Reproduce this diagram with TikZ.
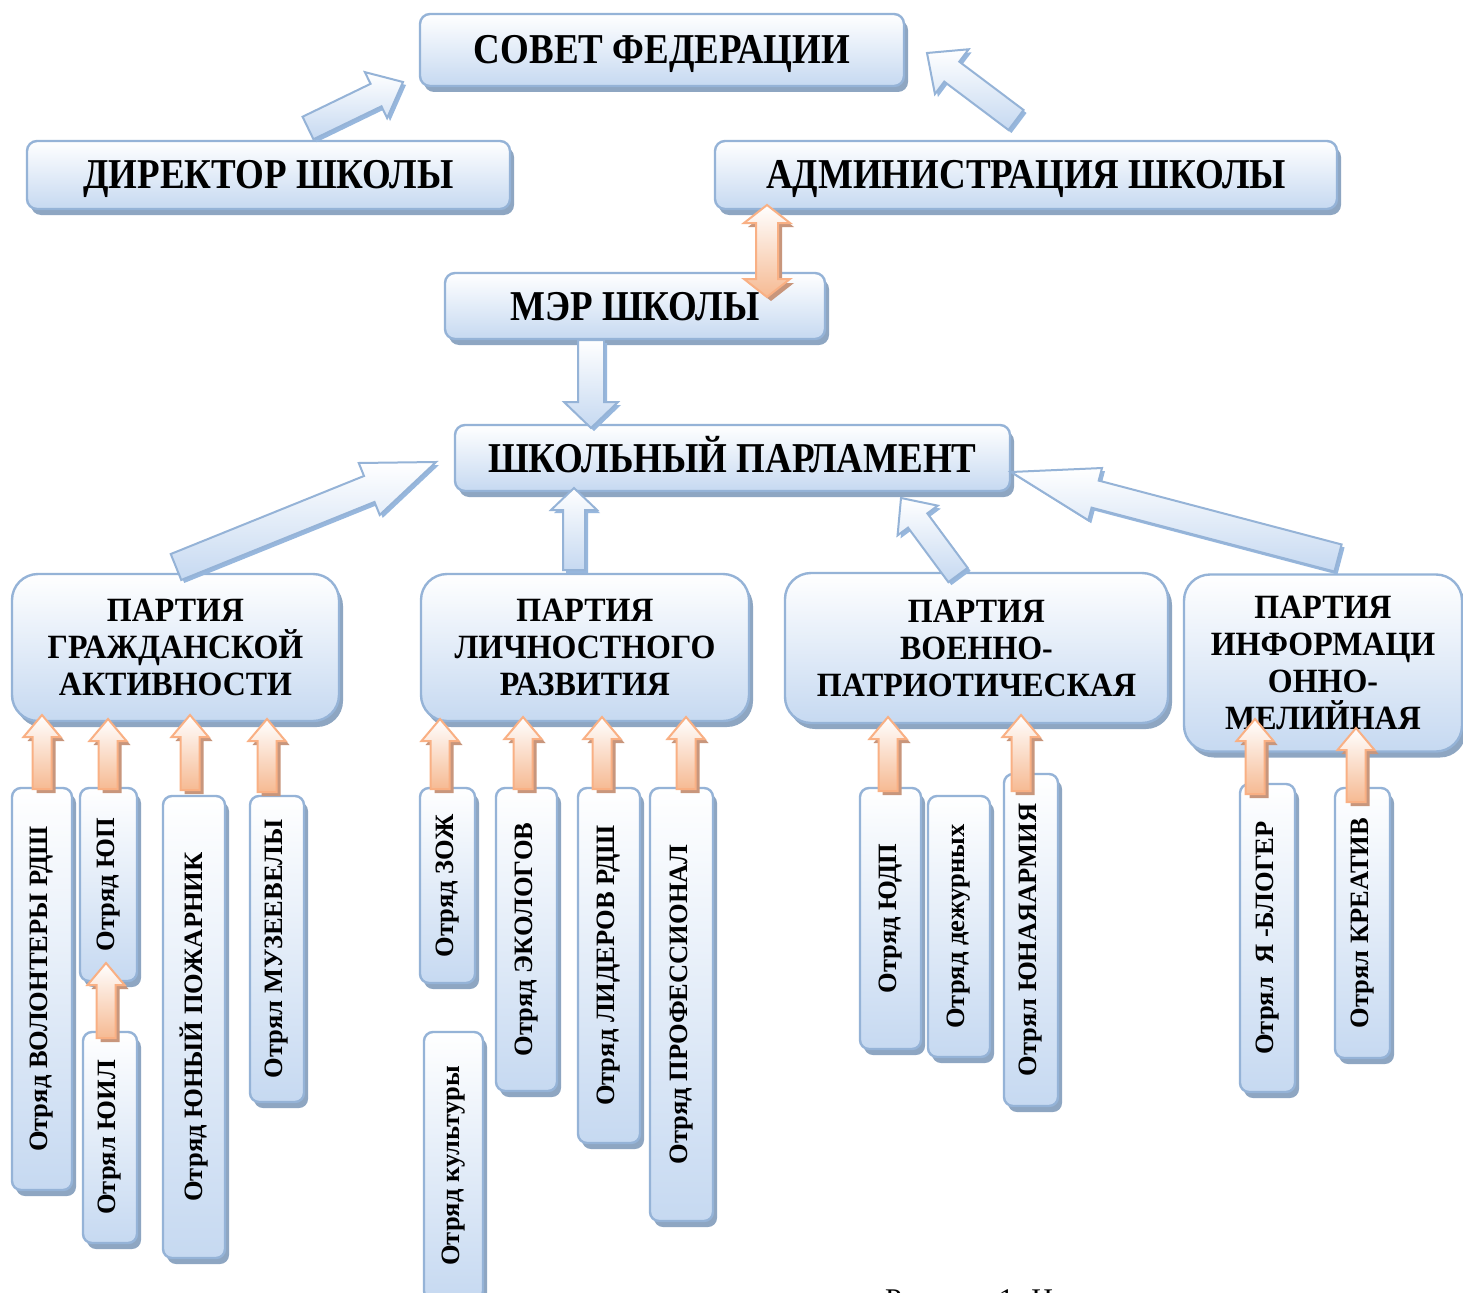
\documentclass[tikz,border=0pt]{standalone}
\usepackage{fontspec}
\setmainfont{Liberation Serif}
\newfontfamily\hfont{Liberation Serif}[FakeStretch=0.87]
\newfontfamily\pfont{Liberation Serif}[FakeStretch=0.94]
\newfontfamily\vfont{Liberation Serif}
\usetikzlibrary{shadows,calc}
\definecolor{bord}{HTML}{95B3D7}
\definecolor{boxb}{HTML}{C6D9F1}
\definecolor{boxsh}{HTML}{8EA6C2}
\definecolor{arrsh}{HTML}{97B7DD}
\definecolor{obord}{HTML}{F9B084}
\definecolor{ofill}{HTML}{F6BA93}
\definecolor{osh}{HTML}{C8967C}
\newcommand\blockarr[6]{%
  \coordinate (ab) at ($(#3)!#6!(#2)$);
  \draw[#1] ($(#2)!#4!90:(#3)$) -- ($(ab)!#4!90:(#3)$) -- ($(ab)!#5!90:(#3)$) -- (#3)
    -- ($(ab)!#5!-90:(#3)$) -- ($(ab)!#4!-90:(#3)$) -- ($(#2)!#4!-90:(#3)$) -- cycle;}
\newcommand\oarrow[2]{\blockarr{oarr}{#1}{#2}{9.5pt}{18.5pt}{22pt}}
\tikzset{
  boxbase/.style={draw=bord, line width=2.4pt, top color=white, bottom color=boxb,
    drop shadow={shadow xshift=4pt, shadow yshift=-6pt, fill=boxsh, opacity=1},
    inner sep=0pt, text=black},
  tbox/.style={boxbase, rounded corners=10pt, text height=28pt, text depth=0pt,
    font=\hfont\bfseries\fontsize{42.5}{46}\selectfont},
  pbox/.style={boxbase, rounded corners=26pt, align=center, font=\pfont\bfseries\fontsize{34}{37}\selectfont},
  vbx/.style={boxbase, rounded corners=9pt, font=\vfont\bfseries\fontsize{26.5}{30}\selectfont},
  barr/.style={draw=bord, line width=2pt, top color=white, bottom color=boxb,
    drop shadow={shadow xshift=3pt, shadow yshift=-3pt, fill=arrsh, opacity=1}},
  oarr/.style={draw=obord, line width=2pt, top color=white, bottom color=ofill,
    drop shadow={shadow xshift=4pt, shadow yshift=-4pt, fill=osh, opacity=1}}
}
\begin{document}
\begin{tikzpicture}[x=1pt,y=-1pt]
\useasboundingbox (0,0) rectangle (1463,1292);
\fill[white] (0,0) rectangle (1463,1292);
% top level
\node[tbox, minimum width=484pt, minimum height=72pt] (sovet) at (662,50) {СОВЕТ ФЕДЕРАЦИИ};
\node[tbox, minimum width=483pt, minimum height=68pt] (dir) at (268.5,175) {ДИРЕКТОР ШКОЛЫ};
\node[tbox, minimum width=622pt, minimum height=68pt] (adm) at (1026,175) {АДМИНИСТРАЦИЯ ШКОЛЫ};
\node[tbox, minimum width=380pt, minimum height=66pt] (mayor) at (635,306) {МЭР ШКОЛЫ};
\node[tbox, minimum width=555pt, minimum height=66pt] (parl) at (732.5,458) {ШКОЛЬНЫЙ ПАРЛАМЕНТ};
% parties
\node[pbox, minimum width=327pt, minimum height=147pt] (p1) at (175.5,647.5) {ПАРТИЯ\\ГРАЖДАНСКОЙ\\АКТИВНОСТИ};
\node[pbox, minimum width=328pt, minimum height=147pt] (p2) at (585,647.5) {ПАРТИЯ\\ЛИЧНОСТНОГО\\РАЗВИТИЯ};
\node[pbox, minimum width=383pt, minimum height=150pt] (p3) at (976.5,648) {ПАРТИЯ\\ВОЕННО-\\ПАТРИОТИЧЕСКАЯ};
\node[pbox, minimum width=278pt, minimum height=177pt] (p4) at (1323,663) {ПАРТИЯ\\ИНФОРМАЦИ\\ОННО-\\МЕЛИЙНАЯ};
% squads
\node[vbx, minimum width=60pt, minimum height=402pt] (v1) at (42,989) {\rotatebox{90}{Отряд ВОЛОНТЕРЫ РДШ}};
\node[vbx, minimum width=57pt, minimum height=193pt] (v2) at (108.5,884.5) {\rotatebox{90}{Отряд ЮП}};
\node[vbx, minimum width=54pt, minimum height=211pt] (v3) at (110,1137.5) {\rotatebox{90}{Отрял ЮИЛ}};
\node[vbx, minimum width=62pt, minimum height=462pt] (v4) at (194,1027) {\rotatebox{90}{Отряд ЮНЫЙ ПОЖАРНИК}};
\node[vbx, minimum width=54pt, minimum height=306pt] (v5) at (277,949) {\rotatebox{90}{Отрял МУЗЕЕВЕЛЫ}};
\node[vbx, minimum width=55pt, minimum height=195pt] (v6) at (447.5,885.5) {\rotatebox{90}{Отряд ЗОЖ}};
\node[vbx, minimum width=59pt, minimum height=268pt] (v7) at (453.5,1166) {\rotatebox{90}{Отряд культуры}};
\node[vbx, minimum width=61pt, minimum height=303pt] (v8) at (526.5,939.5) {\rotatebox{90}{Отряд ЭКОЛОГОВ}};
\node[vbx, minimum width=62pt, minimum height=355pt] (v9) at (609,965.5) {\rotatebox{90}{Отряд ЛИДЕРОВ РДШ}};
\node[vbx, minimum width=63pt, minimum height=433pt] (v10) at (681.5,1004.5) {\rotatebox{90}{Отряд ПРОФЕССИОНАЛ}};
\node[vbx, minimum width=61pt, minimum height=261pt] (v11) at (890.5,918.5) {\rotatebox{90}{Отряд ЮДП}};
\node[vbx, minimum width=62pt, minimum height=261pt] (v12) at (959,926.5) {\rotatebox{90}{Отряд дежурных}};
\node[vbx, minimum width=54pt, minimum height=332pt] (v13) at (1031,940) {\rotatebox{90}{Отрял ЮНАЯАРМИЯ}};
\node[vbx, minimum width=55pt, minimum height=308pt] (v14) at (1267.5,938) {\rotatebox{90}{Отрял\ \ Я -БЛОГЕР}};
\node[vbx, minimum width=55pt, minimum height=270pt] (v15) at (1362.5,923) {\rotatebox{90}{Отрял КРЕАТИВ}};
% arrow end points
\coordinate (b1t) at (308,128);  \coordinate (b1h) at (403,82);
\coordinate (b2t) at (1016,120); \coordinate (b2h) at (927,53);
\coordinate (b3t) at (591,340);  \coordinate (b3h) at (591,428);
\coordinate (b4t) at (176,567);  \coordinate (b4h) at (436,462);
\coordinate (b5t) at (574,570);  \coordinate (b5h) at (574,488);
\coordinate (b6t) at (958,575);  \coordinate (b6h) at (901,498);
\coordinate (b7t) at (1338,558); \coordinate (b7h) at (1011,472);
% blue arrows
\blockarr{barr}{b1t}{b1h}{12.5pt}{25.5pt}{30pt}
\blockarr{barr}{b2t}{b2h}{12.5pt}{28pt}{31pt}
\blockarr{barr}{b3t}{b3h}{13pt}{27pt}{26pt}
\blockarr{barr}{b4t}{b4h}{14pt}{28pt}{72pt}
\blockarr{barr}{b5t}{b5h}{11pt}{23pt}{22pt}
\blockarr{barr}{b6t}{b6h}{12pt}{25pt}{28pt}
\blockarr{barr}{b7t}{b7h}{14pt}{27pt}{87pt}
% double arrow mayor <-> administration
\coordinate (dT) at (767,205); \coordinate (dB) at (767,297);
\draw[oarr] (dT) -- ++(23,18) -- ++(-12,0) -- ++(0,56) -- ++(12,0) -- (dB)
  -- ++(-23,-18) -- ++(12,0) -- ++(0,-56) -- ++(-12,0) -- cycle;
% orange arrows
\coordinate (o1t) at (42,789);   \coordinate (o1h) at (42,715);
\coordinate (o2t) at (108,789);  \coordinate (o2h) at (108,719);
\coordinate (o3t) at (190,790);  \coordinate (o3h) at (190,715);
\coordinate (o4t) at (267,792);  \coordinate (o4h) at (267,719);
\coordinate (o5t) at (106,1038); \coordinate (o5h) at (106,963);
\coordinate (o6t) at (440,789);  \coordinate (o6h) at (440,719);
\coordinate (o7t) at (523,789);  \coordinate (o7h) at (523,717);
\coordinate (o8t) at (602,789);  \coordinate (o8h) at (602,717);
\coordinate (o9t) at (686,789);  \coordinate (o9h) at (686,717);
\coordinate (o10t) at (888,791); \coordinate (o10h) at (888,717);
\coordinate (o11t) at (1021,791);\coordinate (o11h) at (1021,715);
\coordinate (o12t) at (1255,794);\coordinate (o12h) at (1255,719);
\coordinate (o13t) at (1356,802);\coordinate (o13h) at (1356,728);
\oarrow{o1t}{o1h}\oarrow{o2t}{o2h}\oarrow{o3t}{o3h}\oarrow{o4t}{o4h}
\oarrow{o5t}{o5h}\oarrow{o6t}{o6h}\oarrow{o7t}{o7h}\oarrow{o8t}{o8h}
\oarrow{o9t}{o9h}\oarrow{o10t}{o10h}\oarrow{o11t}{o11h}\oarrow{o12t}{o12h}
\oarrow{o13t}{o13h}
% caption (cut off by the page edge, as in the reference)
\node[anchor=base west, inner sep=0pt, font=\fontsize{30}{34}\selectfont] (cap) at (885,1309) {Рисунок 1. Н};
\end{tikzpicture}
\end{document}
